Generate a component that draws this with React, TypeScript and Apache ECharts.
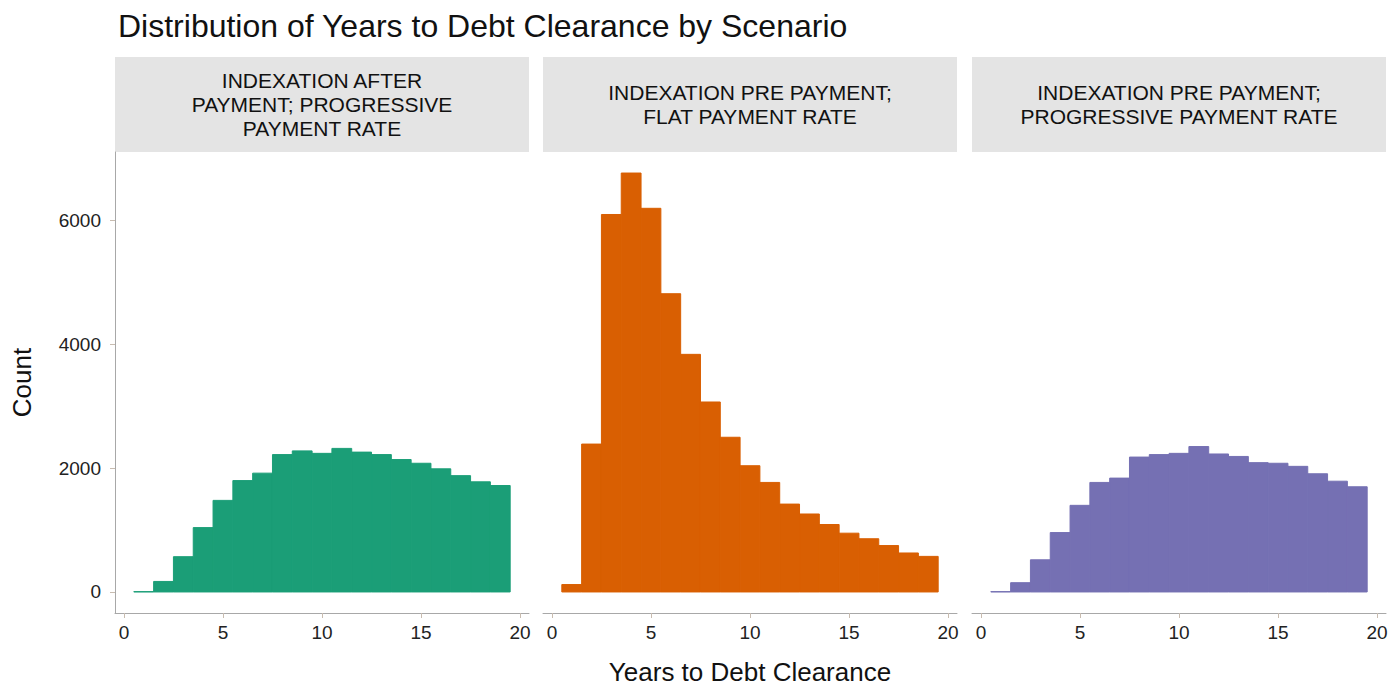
import { useEffect, useRef } from 'react'
import * as echarts from 'echarts'

// histogram bins (bin centres, width 1 year)
const binCenters = [1, 2, 3, 4, 5, 6, 7, 8, 9, 10, 11, 12, 13, 14, 15, 16, 17, 18, 19]

const afterProgressive = [5, 170, 570, 1040, 1480, 1800, 1920, 2220, 2280, 2240, 2320, 2260, 2220, 2140, 2080, 1990, 1880, 1780, 1720]
const preFlat = [120, 2390, 6100, 6770, 6200, 4820, 3840, 3070, 2500, 2040, 1770, 1420, 1260, 1090, 950, 860, 750, 630, 575]
const preProgressive = [5, 150, 520, 960, 1400, 1770, 1840, 2180, 2220, 2240, 2350, 2230, 2190, 2090, 2080, 2030, 1910, 1790, 1700]

const panelTitles = [
  'INDEXATION AFTER\nPAYMENT; PROGRESSIVE\nPAYMENT RATE',
  'INDEXATION PRE PAYMENT;\nFLAT PAYMENT RATE',
  'INDEXATION PRE PAYMENT;\nPROGRESSIVE PAYMENT RATE',
]
const panelColors = ['#1b9e77', '#d95f02', '#7570b3']

const xTicks = [0, 5, 10, 15, 20]
const yTicks = [0, 2000, 4000, 6000]

const FONT = 'Liberation Sans, Arial, sans-serif'
const panelLefts = [115, 543, 972]
const panelWidth = 414
const plotTop = 152
const plotHeight = 461
const stripTop = 57

export default function App() {
  const chartRef = useRef<HTMLDivElement>(null)

  useEffect(() => {
    if (!chartRef.current) return
    const chart = echarts.init(chartRef.current, undefined, { renderer: 'svg' })

    const seriesData = [afterProgressive, preFlat, preProgressive]

    chart.setOption({
      animation: false,
      backgroundColor: '#ffffff',
      textStyle: { fontFamily: FONT },
      title: {
        text: 'Distribution of Years to Debt Clearance by Scenario',
        left: 113,
        top: 5,
        textStyle: { fontSize: 32, fontWeight: 'normal', color: '#111', fontFamily: FONT },
      },
      grid: panelLefts.map(left => ({
        left,
        top: plotTop,
        width: panelWidth,
        height: plotHeight,
      })),
      xAxis: panelLefts.map((_, i) => ({
        type: 'value',
        gridIndex: i,
        min: -0.45,
        max: 20.45,
        name: i === 1 ? 'Years to Debt Clearance' : '',
        nameLocation: 'middle',
        nameGap: 46,
        nameTextStyle: { fontSize: 26, color: '#111', fontFamily: FONT },
        axisLine: { show: true, onZero: false, lineStyle: { color: '#a8a8a8', width: 1 } },
        axisTick: { show: true, length: 5, customValues: xTicks, lineStyle: { color: '#c8bcb0' } },
        axisLabel: { customValues: xTicks, fontSize: 19, color: '#222', margin: 10, fontFamily: FONT },
        splitLine: { show: false },
      })),
      yAxis: panelLefts.map((_, i) => ({
        type: 'value',
        gridIndex: i,
        min: -340,
        max: 7110,
        name: i === 0 ? 'Count' : '',
        nameLocation: 'middle',
        nameRotate: 90,
        nameGap: 80,
        nameTextStyle: { fontSize: 26, color: '#111', fontFamily: FONT },
        axisLine: { show: i === 0, onZero: false, lineStyle: { color: '#a8a8a8', width: 1 } },
        axisTick: { show: i === 0, length: 5, customValues: yTicks, lineStyle: { color: '#c8bcb0' } },
        axisLabel: {
          show: i === 0,
          customValues: yTicks,
          formatter: (v: number) => String(v),
          fontSize: 19,
          color: '#222',
          margin: 14,
          fontFamily: FONT,
        },
        splitLine: { show: false },
      })),
      graphic: panelLefts.flatMap((left, i) => [
        {
          type: 'rect',
          shape: { x: left, y: stripTop, width: panelWidth, height: plotTop - stripTop },
          style: { fill: '#e4e4e4' },
          silent: true,
        },
        {
          type: 'text',
          x: left + panelWidth / 2,
          y: (stripTop + plotTop) / 2,
          style: {
            text: panelTitles[i],
            align: 'center',
            verticalAlign: 'middle',
            fill: '#111',
            font: `21px ${FONT}`,
            lineHeight: 24,
          },
          silent: true,
        },
      ]),
      series: seriesData.map((values, i) => ({
        type: 'custom',
        xAxisIndex: i,
        yAxisIndex: i,
        data: binCenters.map((b, k) => [b, values[k]]),
        encode: { x: 0, y: 1 },
        renderItem: (_params: any, api: any) => {
          const x = api.value(0)
          const y = api.value(1)
          const p0 = api.coord([x - 0.5, y])
          const p1 = api.coord([x + 0.5, 0])
          return {
            type: 'rect',
            shape: { x: p0[0], y: p0[1], width: p1[0] - p0[0], height: p1[1] - p0[1] },
            style: { fill: panelColors[i], stroke: panelColors[i], lineWidth: 1 },
          }
        },
      })),
    })

    return () => {
      chart.dispose()
    }
  }, [])

  return (
    <div
      ref={chartRef}
      style={{ position: 'fixed', left: 0, top: 0, width: 1400, height: 700, background: '#fff' }}
    />
  )
}
